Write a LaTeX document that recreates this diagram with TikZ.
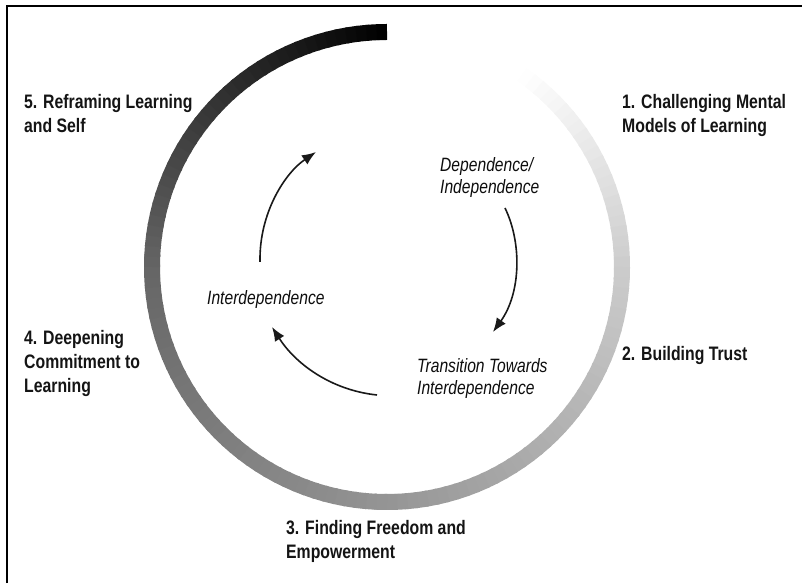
\documentclass[tikz,border=0pt]{standalone}
\usepackage{fontspec}
\setmainfont[FakeStretch=0.81]{Liberation Sans}
\usetikzlibrary{arrows.meta,calc}
\tikzset{
  stage/.style={font=\fontsize{19.5}{24}\selectfont\bfseries, align=left, anchor=base west, inner sep=0pt, text=black!92},
  phase/.style={font=\fontsize{19.3}{22}\selectfont\itshape, align=left, anchor=base west, inner sep=0pt, text=black!95},
  flow/.style={line width=1.6pt, -{Latex[length=14pt,width=11pt]}, black!90},
  frameline/.style={line width=2pt, black}
}
\begin{document}
\begin{tikzpicture}[x=1pt,y=1pt]
\useasboundingbox (0,0) rectangle (802,583);
% frame (top and left edges)
\draw[frameline] (6.8,0) -- (6.8,577.3) -- (802,577.3);
% gradient ring
\coordinate (C) at (387,316);
\foreach \i in {0,...,129}{
  \pgfmathsetmacro{\aa}{55-\i*2.5}
  \pgfmathsetmacro{\ab}{\aa-2.5-(\i<129?0.6:0)}
  \pgfmathsetmacro{\tt}{(\i+0.5)/130}
  \pgfmathsetmacro{\gg}{\tt<0.17 ? 1-\tt*1.1765 : (\tt<0.45 ? 0.8-(\tt-0.17)*0.7857 : (\tt<0.72 ? 0.58-(\tt-0.45)*0.6667 : (\tt<0.86 ? 0.4-(\tt-0.72)*1.4286 : 0.2-(\tt-0.86)*1.4286)))}
  \pgfmathsetmacro{\pp}{max(0,min(100,100*(1-\gg)))}
  \draw[line width=16pt, draw=black!\pp] ($(C)+(\aa:235)$) arc[start angle=\aa, end angle=\ab, radius=235];
}
% stage labels (anchor = baseline of last line)
\node[stage] (s1) at (622,450) {1. Challenging Mental\\Models of Learning};
\node[stage] (s2) at (622,222.3) {2. Building Trust};
\node[stage] (s3) at (286,25) {3. Finding Freedom and\\Empowerment};
\node[stage] (s4) at (24,190) {4. Deepening\\Commitment to\\Learning};
\node[stage] (s5) at (24,450) {5. Reframing Learning\\and Self};
% phase labels
\node[phase] (p1) at (440,389) {Dependence/\\Independence};
\node[phase] (p2) at (417,188) {Transition Towards\\Interdependence};
\node[phase] (p3) at (207,278.5) {Interdependence};
% arrow ends
\coordinate (a1s) at (505,375);
\coordinate (a1e) at (493,251);
\coordinate (a2s) at (377,188);
\coordinate (a2e) at (272,256);
\coordinate (a3s) at (260,321);
\coordinate (a3e) at (316,431);
\draw[flow] (a1s) .. controls (522,340) and (521,290) .. (a1e);
\draw[flow] (a2s) .. controls (330,193) and (295,220) .. (a2e);
\draw[flow] (a3s) .. controls (259,370) and (285,410) .. (a3e);
\end{tikzpicture}
\end{document}
